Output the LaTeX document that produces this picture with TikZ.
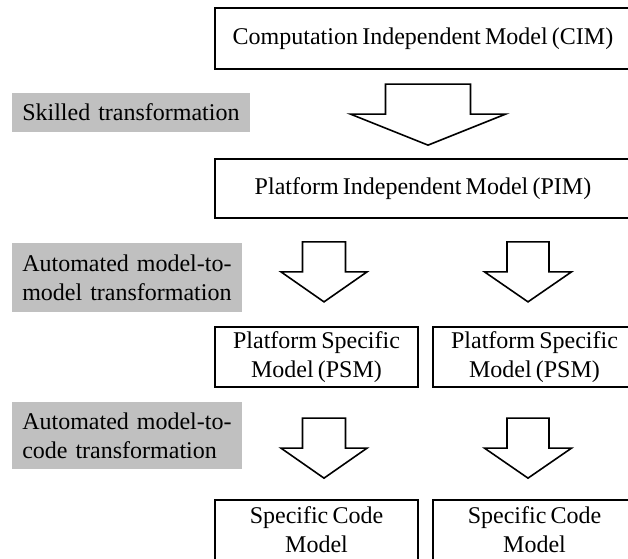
\documentclass[tikz,border=0pt]{standalone}
\usepackage{fontspec}
\setmainfont{Liberation Serif}[WordSpace=0.7]
\usetikzlibrary{calc}
\definecolor{labelgray}{HTML}{C0C0C0}
\tikzset{
  txt/.style={font=\fontsize{18}{21.75}\selectfont},
  modelbox/.style={txt, draw, line width=1.7pt, inner sep=0pt, align=center},
  steplabel/.style={txt, fill=labelgray, inner xsep=7.5pt, inner ysep=0pt, align=left},
  blockarrow/.style={draw, line width=1.2pt, fill=white, line join=miter},
  pics/blockdown/.style args={#1/#2/#3}{code={
    \draw[blockarrow] (-#1,0) -- (#1,0) -- (#1,30) -- (#2,30) -- (0,30+#3)
      -- (-#2,30) -- (-#1,30) -- cycle;
  }}
}
\begin{document}
\begin{tikzpicture}[x=0.75pt, y=-0.75pt]
  \useasboundingbox (0,0) rectangle (628,558);
  \clip (0,0) rectangle (628,558);

  % model boxes
  \node[modelbox, minimum width=416*0.75pt, minimum height=61*0.75pt]
    (cim) at (423,38.5) {Computation Independent Model (CIM)};
  \node[modelbox, minimum width=416*0.75pt, minimum height=59*0.75pt]
    (pim) at (423,188.5) {Platform Independent Model (PIM)};
  \node[modelbox, minimum width=203*0.75pt, minimum height=60*0.75pt]
    (psmA) at (316.5,357) {Platform Specific\\Model (PSM)};
  \node[modelbox, minimum width=203*0.75pt, minimum height=60*0.75pt]
    (psmB) at (534.5,357) {Platform Specific\\Model (PSM)};
  \node[modelbox, minimum width=203*0.75pt, minimum height=60*0.75pt]
    (codeA) at (316.5,530) {Specific Code\\Model};
  \node[modelbox, minimum width=203*0.75pt, minimum height=60*0.75pt]
    (codeB) at (534.5,530) {Specific Code\\Model};

  % transformation labels
  \node[steplabel, text width=218*0.75pt, minimum height=39*0.75pt, anchor=west]
    (skill) at (12,112.5) {Skilled transformation};
  \node[steplabel, text width=210*0.75pt, minimum height=69*0.75pt, anchor=west]
    (m2m) at (12,277.5) {Automated model-to-\\model transformation};
  \node[steplabel, text width=210*0.75pt, minimum height=67*0.75pt, anchor=west]
    (m2c) at (12,435.5) {Automated model-to-\\code transformation};

  % block arrows between the models
  \pic at ($(cim.south)+(5,14)$) {blockdown=42.5/77.5/31};
  \pic at ($(psmA.north)+(7.5,-84)$) {blockdown=21.5/43/30};
  \pic at ($(psmB.north)+(-6.5,-84)$) {blockdown=21/43.5/30};
  \pic at ($(psmA.south)+(7.5,30)$) {blockdown=21.5/43/30};
  \pic at ($(psmB.south)+(-6.5,30)$) {blockdown=21/43.5/30};
\end{tikzpicture}
\end{document}
